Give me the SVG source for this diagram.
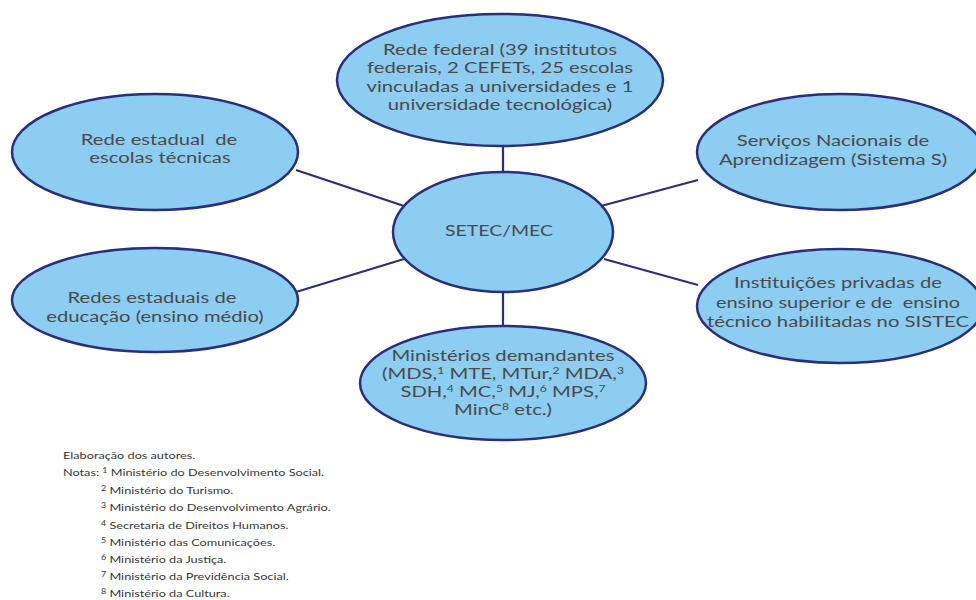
<svg xmlns="http://www.w3.org/2000/svg" width="976" height="600" viewBox="0 0 976 600">
<style>
.n{fill:#8dcdf1;stroke:#2a2f7c;stroke-width:2.5}
.t{font-family:Lato,"Open Sans",sans-serif;font-size:15px;fill:#4a4a4a;text-anchor:middle}
.p{white-space:pre}
.c{stroke:#2a2f7c;stroke-width:2.2;fill:none}
.f{font-family:Lato,"Open Sans",sans-serif;font-size:10px;fill:#383838}
.s{font-size:9px}
.fs{font-size:7px}
</style>
<rect width="976" height="600" fill="#fff"/>
<g id="connectors">
<line class="c" x1="503" y1="146" x2="503" y2="173"/>
<line class="c" x1="503" y1="291" x2="503" y2="326"/>
<line class="c" x1="296" y1="170" x2="404" y2="206"/>
<line class="c" x1="296" y1="292" x2="404" y2="259"/>
<line class="c" x1="698" y1="180" x2="601" y2="206"/>
<line class="c" x1="698" y1="285" x2="604" y2="259"/>
</g>
<g id="federal">
<ellipse class="n" cx="500" cy="80" rx="163" ry="66"/>
<text class="t" transform="matrix(1.35,0,0,1,500,55)">Rede federal (39 institutos</text>
<text class="t" transform="matrix(1.35,0,0,1,500,73)">federais, 2 CEFETs, 25 escolas</text>
<text class="t" transform="matrix(1.35,0,0,1,500,92)">vinculadas a universidades e 1</text>
<text class="t" transform="matrix(1.35,0,0,1,500,110)">universidade tecnológica)</text>
</g>
<g id="setec">
<ellipse class="n" cx="503" cy="232" rx="110" ry="60"/>
<text class="t" transform="matrix(1.3,0,0,1,499,236)">SETEC/MEC</text>
</g>
<g id="estadual-tecnicas">
<ellipse class="n" cx="155" cy="152" rx="143" ry="58"/>
<text class="t p" transform="matrix(1.35,0,0,1,159,145)">Rede estadual  de</text>
<text class="t" transform="matrix(1.35,0,0,1,160,163)">escolas técnicas</text>
</g>
<g id="estadual-educacao">
<ellipse class="n" cx="155" cy="300" rx="143" ry="52"/>
<text class="t" transform="matrix(1.35,0,0,1,152,303)">Redes estaduais de</text>
<text class="t" transform="matrix(1.35,0,0,1,155,322)">educação (ensino médio)</text>
</g>
<g id="sistema-s">
<ellipse class="n" cx="840" cy="152" rx="143" ry="58"/>
<text class="t" transform="matrix(1.35,0,0,1,833,146)">Serviços Nacionais de</text>
<text class="t" transform="matrix(1.35,0,0,1,833,165)">Aprendizagem (Sistema S)</text>
</g>
<g id="privadas">
<ellipse class="n" cx="840" cy="306" rx="143" ry="57"/>
<text class="t" transform="matrix(1.35,0,0,1,838,288)">Instituições privadas de</text>
<text class="t p" transform="matrix(1.33,0,0,1,838,308)">ensino superior e de  ensino</text>
<text class="t" transform="matrix(1.35,0,0,1,838,327)">técnico habilitadas no SISTEC</text>
</g>
<g id="ministerios">
<ellipse class="n" cx="503" cy="383" rx="143" ry="57"/>
<text class="t" transform="matrix(1.35,0,0,1,503,361)">Ministérios demandantes</text>
<text class="t" transform="matrix(1.35,0,0,1,503,379)">(MDS,<tspan class="s" dy="-5">1</tspan><tspan dy="5"> MTE, MTur,</tspan><tspan class="s" dy="-5">2</tspan><tspan dy="5"> MDA,</tspan><tspan class="s" dy="-5">3</tspan></text>
<text class="t" transform="matrix(1.35,0,0,1,503,397)">SDH,<tspan class="s" dy="-5">4</tspan><tspan dy="5"> MC,</tspan><tspan class="s" dy="-5">5</tspan><tspan dy="5"> MJ,</tspan><tspan class="s" dy="-5">6</tspan><tspan dy="5"> MPS,</tspan><tspan class="s" dy="-5">7</tspan></text>
<text class="t" transform="matrix(1.35,0,0,1,503,415)">MinC<tspan class="s" dy="-5">8</tspan><tspan dy="5"> etc.)</tspan></text>
</g>
<g id="notes">
<text class="f" transform="matrix(1.27,0,0,1,63,458.5)">Elaboração dos autores.</text>
<text class="f" transform="matrix(1.27,0,0,1,63,476)">Notas: <tspan class="fs" dy="-3">1</tspan><tspan dy="3"> Ministério do Desenvolvimento Social.</tspan></text>
<text class="f" transform="matrix(1.27,0,0,1,101,493.5)"><tspan class="fs" dy="-3">2</tspan><tspan dy="3"> Ministério do Turismo.</tspan></text>
<text class="f" transform="matrix(1.27,0,0,1,101,511)"><tspan class="fs" dy="-3">3</tspan><tspan dy="3"> Ministério do Desenvolvimento Agrário.</tspan></text>
<text class="f" transform="matrix(1.27,0,0,1,101,528.5)"><tspan class="fs" dy="-3">4</tspan><tspan dy="3"> Secretaria de Direitos Humanos.</tspan></text>
<text class="f" transform="matrix(1.27,0,0,1,101,545.5)"><tspan class="fs" dy="-3">5</tspan><tspan dy="3"> Ministério das Comunicações.</tspan></text>
<text class="f" transform="matrix(1.27,0,0,1,101,562.5)"><tspan class="fs" dy="-3">6</tspan><tspan dy="3"> Ministério da Justiça.</tspan></text>
<text class="f" transform="matrix(1.27,0,0,1,101,580)"><tspan class="fs" dy="-3">7</tspan><tspan dy="3"> Ministério da Previdência Social.</tspan></text>
<text class="f" transform="matrix(1.27,0,0,1,101,597)"><tspan class="fs" dy="-3">8</tspan><tspan dy="3"> Ministério da Cultura.</tspan></text>
</g>
</svg>
